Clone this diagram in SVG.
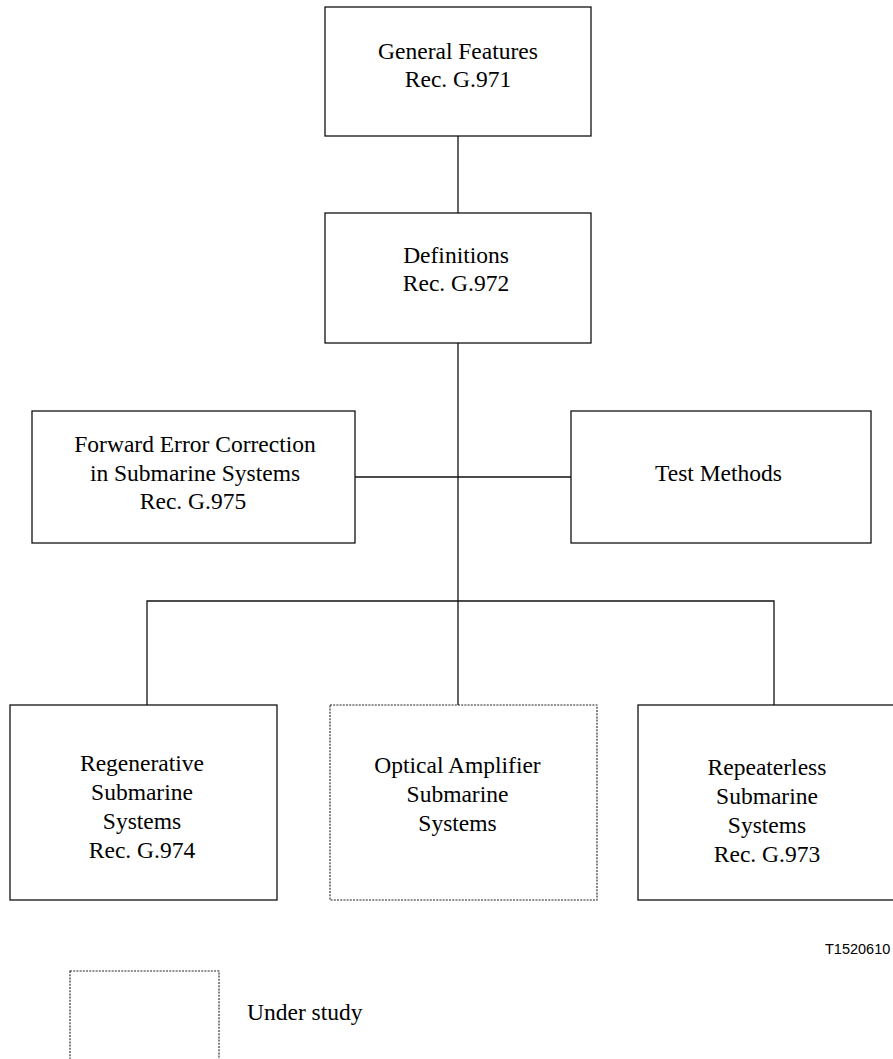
<svg xmlns="http://www.w3.org/2000/svg" width="893" height="1059" viewBox="0 0 893 1059">
<style>
.box{fill:#fff;stroke:#111;stroke-width:1.3}
.dash{fill:#fff;stroke:#222;stroke-width:1.1;stroke-dasharray:2 1.2}
.ln{fill:none;stroke:#111;stroke-width:1.3}
.t{font-family:"Liberation Serif","Times New Roman",serif;font-size:23.5px;fill:#000;text-anchor:middle}
.l{font-family:"Liberation Serif","Times New Roman",serif;font-size:23.5px;fill:#000}
.id{font-family:"Liberation Sans",Arial,sans-serif;font-size:14.5px;fill:#000}
</style>
<rect width="893" height="1059" fill="#fff"/>
<g id="connectors">
<path class="ln" d="M458 136V213"/>
<path class="ln" d="M458 343V705"/>
<path class="ln" d="M355 477H571"/>
<path class="ln" d="M147 705V601H774V705"/>
</g>
<g id="general">
<rect class="box" x="325" y="7" width="266" height="129"/>
<text class="t" x="458" y="59">General Features</text>
<text class="t" x="458" y="87">Rec. G.971</text>
</g>
<g id="definitions">
<rect class="box" x="325" y="213" width="266" height="130"/>
<text class="t" x="456" y="263">Definitions</text>
<text class="t" x="456" y="291">Rec. G.972</text>
</g>
<g id="fec">
<rect class="box" x="32" y="411" width="323" height="132"/>
<text class="t" x="195" y="452">Forward Error Correction</text>
<text class="t" x="195" y="480.5">in Submarine Systems</text>
<text class="t" x="193" y="509">Rec. G.975</text>
</g>
<g id="test">
<rect class="box" x="571" y="411" width="300" height="132"/>
<text class="t" x="718.5" y="481">Test Methods</text>
</g>
<g id="regenerative">
<rect class="box" x="10" y="705" width="267" height="195"/>
<text class="t" x="142" y="771">Regenerative</text>
<text class="t" x="142" y="800">Submarine</text>
<text class="t" x="142" y="829">Systems</text>
<text class="t" x="142" y="858">Rec. G.974</text>
</g>
<g id="optical">
<rect class="dash" x="330" y="705" width="267" height="195"/>
<text class="t" x="457.5" y="773">Optical Amplifier</text>
<text class="t" x="457.5" y="802">Submarine</text>
<text class="t" x="457.5" y="831">Systems</text>
</g>
<g id="repeaterless">
<rect class="box" x="638" y="705" width="258" height="195"/>
<text class="t" x="767" y="775">Repeaterless</text>
<text class="t" x="767" y="804">Submarine</text>
<text class="t" x="767" y="833">Systems</text>
<text class="t" x="767" y="862">Rec. G.973</text>
</g>
<text class="id" x="825" y="954">T1520610</text>
<g id="legend">
<rect class="dash" x="70" y="971" width="149" height="100"/>
<text class="l" x="247" y="1020">Under study</text>
</g>
</svg>
